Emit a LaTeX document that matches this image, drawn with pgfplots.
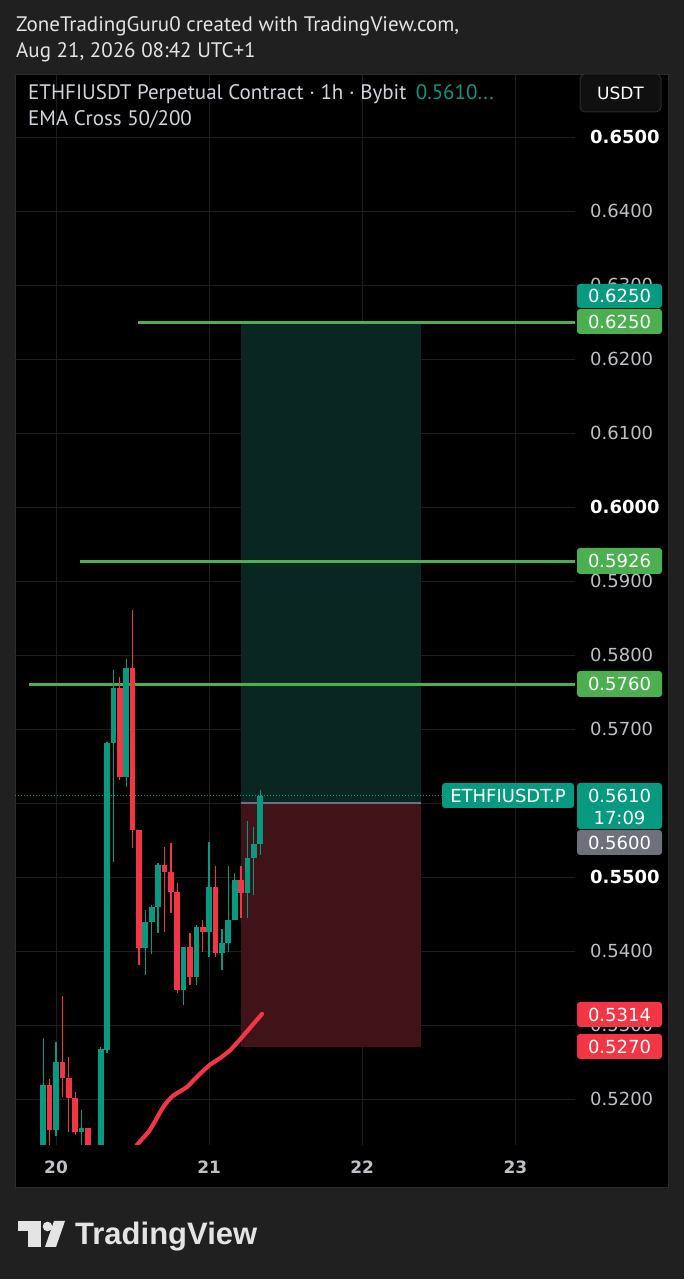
\documentclass[border=0pt]{standalone}
\usepackage{pgfplots}
\pgfplotsset{compat=1.18}
\usepackage{pgfplotstable}
\usepackage{fontspec}
\setmainfont{Liberation Sans}
\newfontfamily\hdrfont{PT Sans}
\newfontfamily\pricefont{DejaVu Sans}

\definecolor{bgout}{RGB}{32,32,32}
\definecolor{panelb}{RGB}{44,44,44}
\definecolor{gridc}{RGB}{30,30,30}
\definecolor{candg}{RGB}{8,153,129}
\definecolor{candr}{RGB}{242,54,69}
\definecolor{lineg}{RGB}{76,175,80}
\definecolor{labg}{RGB}{110,113,124}
\definecolor{zoneg}{RGB}{9,38,34}
\definecolor{zoner}{RGB}{64,19,24}
\definecolor{axtext}{RGB}{190,192,198}
\definecolor{hdrtext}{RGB}{228,228,228}
\definecolor{legtext}{RGB}{209,212,220}
\definecolor{btnfill}{RGB}{16,16,16}

\pgfplotstableread{
h O H L C
-2 0.5120 0.5282 0.5110 0.5219
0 0.5158 0.5277 0.5150 0.5250
4 0.5155 0.5185 0.5120 0.5161
7 0.5100 0.5270 0.5095 0.5268
8 0.5266 0.5682 0.5262 0.5681
9 0.5681 0.5780 0.5520 0.5755
11 0.5635 0.5795 0.5622 0.5782
14 0.5404 0.5455 0.5368 0.5439
15 0.5439 0.5462 0.5396 0.5460
16 0.5460 0.5519 0.5424 0.5516
20 0.5347 0.5405 0.5327 0.5405
22 0.5365 0.5435 0.5354 0.5432
24 0.5426 0.5547 0.5392 0.5487
26 0.5397 0.5430 0.5374 0.5411
27 0.5411 0.5515 0.5399 0.5442
28 0.5442 0.5505 0.5442 0.5496
30 0.5478 0.5576 0.5445 0.5526
31 0.5526 0.5568 0.5476 0.5545
32 0.5545 0.5618 0.5530 0.5610
}\greentab

\pgfplotstableread{
h O H L C
-1 0.5219 0.5227 0.5110 0.5158
1 0.5250 0.5339 0.5203 0.5228
2 0.5228 0.5257 0.5155 0.5201
3 0.5201 0.5210 0.5151 0.5155
5 0.5161 0.5161 0.5100 0.5120
6 0.5120 0.5130 0.5085 0.5100
10 0.5755 0.5770 0.5631 0.5635
12 0.5782 0.5861 0.5539 0.5564
13 0.5564 0.5564 0.5381 0.5404
17 0.5516 0.5541 0.5426 0.5507
18 0.5507 0.5546 0.5451 0.5480
19 0.5480 0.5492 0.5343 0.5347
21 0.5405 0.5424 0.5354 0.5365
23 0.5432 0.5442 0.5399 0.5426
25 0.5487 0.5515 0.5392 0.5397
29 0.5496 0.5515 0.5445 0.5478
}\redtab

\pgfplotstableread{
h v
12.2 0.5130
12.7 0.5138
14.7 0.5158
16.8 0.5189
18.3 0.5204
20.5 0.5216
22.1 0.5230
24.1 0.5246
25.7 0.5255
27.3 0.5266
28.8 0.5280
30.4 0.5296
32.3 0.5315
}\ematab

\pgfplotsset{candle/.style={only marks, mark=*, mark size=0pt, draw=none, fill=none, forget plot,
  error bars/.cd, y dir=both, y explicit, error mark=none}}

\begin{document}
\begin{tikzpicture}
% backgrounds
\fill[bgout] (0pt,0pt) rectangle (684pt,1279pt);
\draw[panelb, fill=black, line width=1pt] (15pt,91pt) rectangle (668pt,1204pt);

\begin{axis}[
  at={(15pt,134pt)}, anchor=south west,
  width=560pt, height=1070pt, scale only axis,
  xmin=-6.43, xmax=81.35, ymin=0.51378, ymax=0.65838,
  axis line style={draw=none},
  grid=major, major grid style={gridc, line width=0.9pt},
  xtick={0,24,48,72}, xticklabels={20,21,22,23},
  ytick={0.52,0.53,0.54,0.55,0.56,0.57,0.58,0.59,0.60,0.61,0.62,0.63,0.64,0.65},
  yticklabels={0.5200,0.5300,0.5400,{\bfseries\color{white}0.5500},{},0.5700,0.5800,0.5900,{\bfseries\color{white}0.6000},0.6100,0.6200,0.6300,0.6400,{\bfseries\color{white}0.6500}},
  yticklabel pos=right,
  major tick length=0pt,
  tick style={draw=none},
  xticklabel style={font=\pricefont\bfseries\fontsize{17}{17}\selectfont, text=axtext, anchor=center, inner sep=0pt, yshift=-22pt},
  yticklabel style={font=\pricefont\fontsize{18}{18}\selectfont, text=axtext, anchor=west, inner sep=0pt, xshift=15pt},
]
% position zones
\fill[zoneg] (axis cs:29,0.56) rectangle (axis cs:57.2,0.625);
\fill[zoner] (axis cs:29,0.527) rectangle (axis cs:57.2,0.56);
\draw[labg, line width=1.2pt] (axis cs:29,0.56) -- (axis cs:57.2,0.56);

% horizontal levels
\addplot[lineg, line width=3pt, forget plot] coordinates {(12.85,0.625) (81.35,0.625)};
\addplot[lineg, line width=3pt, forget plot] coordinates {(3.76,0.5926) (81.35,0.5926)};
\addplot[lineg, line width=3pt, forget plot] coordinates {(-4.23,0.576) (81.35,0.576)};

% current price dotted line
\addplot[candg, line width=1pt, dotted, forget plot] coordinates {(-6.43,0.561) (60.5,0.561)};

% EMA
\addplot[candr, line width=4.2pt, line cap=round, smooth, tension=0.4, forget plot] table[x=h, y=v] {\ematab};

% wicks
\addplot[candle, error bar style={line width=1.3pt, draw=candg}]
  table[x=h, y expr={(\thisrow{H}+\thisrow{L})/2}, y error expr={(\thisrow{H}-\thisrow{L})/2}] {\greentab};
\addplot[candle, error bar style={line width=1.3pt, draw=candr}]
  table[x=h, y expr={(\thisrow{H}+\thisrow{L})/2}, y error expr={(\thisrow{H}-\thisrow{L})/2}] {\redtab};
% bodies
\addplot[candle, error bar style={line width=5.7pt, draw=candg}]
  table[x=h, y expr={(\thisrow{O}+\thisrow{C})/2}, y error expr={(\thisrow{C}-\thisrow{O})/2}] {\greentab};
\addplot[candle, error bar style={line width=5.7pt, draw=candr}]
  table[x=h, y expr={(\thisrow{O}+\thisrow{C})/2}, y error expr={(\thisrow{O}-\thisrow{C})/2}] {\redtab};
\end{axis}

% header texts
\node[anchor=west, inner sep=0pt, text=hdrtext, font=\hdrfont\fontsize{21}{24}\selectfont] at (16pt,1253pt) {ZoneTradingGuru0 created with TradingView.com,};
\node[anchor=west, inner sep=0pt, text=hdrtext, font=\hdrfont\fontsize{21}{24}\selectfont] at (16pt,1227pt) {Aug 21, 2026 08:42 UTC+1};
% legend
\node[anchor=west, inner sep=0pt, text=legtext, font=\hdrfont\fontsize{21}{24}\selectfont] at (28pt,1185pt) {ETHFIUSDT Perpetual Contract · 1h · Bybit\hspace{0.45em}\textcolor{candg}{0.5610...}};
\node[anchor=west, inner sep=0pt, text=legtext, font=\hdrfont\fontsize{21}{24}\selectfont] at (28pt,1159pt) {EMA Cross 50/200};
% USDT button
\draw[panelb, fill=btnfill, rounded corners=5pt, line width=1pt] (580pt,1167pt) rectangle (661pt,1205pt);
\node[inner sep=0pt, text=white, font=\pricefont\fontsize{17}{17}\selectfont] at (620.5pt,1186pt) {USDT};

% price boxes
\tikzset{pb/.style={inner sep=0pt, text=white, font=\pricefont\fontsize{18}{18}\selectfont}}
\fill[candg, rounded corners=3pt] (577pt,971pt) rectangle (662pt,995pt);
\node[pb] at (619.5pt,983pt) {0.6250};
\fill[lineg, rounded corners=3pt] (577pt,945pt) rectangle (662pt,970pt);
\node[pb] at (619.5pt,957.5pt) {0.6250};
\fill[lineg, rounded corners=3pt] (577pt,705pt) rectangle (662pt,731pt);
\node[pb] at (619.5pt,718pt) {0.5926};
\fill[lineg, rounded corners=3pt] (577pt,582pt) rectangle (662pt,608pt);
\node[pb] at (619.5pt,595pt) {0.5760};
\fill[candg, rounded corners=3pt] (442pt,471pt) rectangle (574pt,496pt);
\node[pb] at (508pt,483.5pt) {ETHFIUSDT.P};
\fill[candg, rounded corners=3pt] (577pt,450pt) rectangle (662pt,496pt);
\node[pb] at (619.5pt,483pt) {0.5610};
\node[pb] at (619.5pt,461pt) {17:09};
\fill[labg, rounded corners=3pt] (577pt,424pt) rectangle (662pt,449pt);
\node[pb] at (619.5pt,436.5pt) {0.5600};
\fill[candr, rounded corners=3pt] (577pt,252pt) rectangle (662pt,277pt);
\node[pb] at (619.5pt,264.5pt) {0.5314};
\fill[candr, rounded corners=3pt] (577pt,220pt) rectangle (662pt,245pt);
\node[pb] at (619.5pt,232.5pt) {0.5270};

% TradingView logo
\fill[hdrtext] (18pt,48pt) rectangle (41pt,58pt);
\fill[hdrtext] (28pt,32pt) rectangle (41pt,58pt);
\fill[hdrtext] (47.5pt,52.5pt) circle (4.8pt);
\fill[hdrtext] (54pt,58pt) -- (65pt,58pt) -- (56pt,32pt) -- (45pt,32pt) -- cycle;
\node[anchor=base west, inner sep=0pt, text=hdrtext, font=\bfseries\fontsize{31}{31}\selectfont] at (75pt,34pt) {TradingView};

\pgfresetboundingbox
\path (0pt,0pt) rectangle (684pt,1279pt);
\end{tikzpicture}
\end{document}
